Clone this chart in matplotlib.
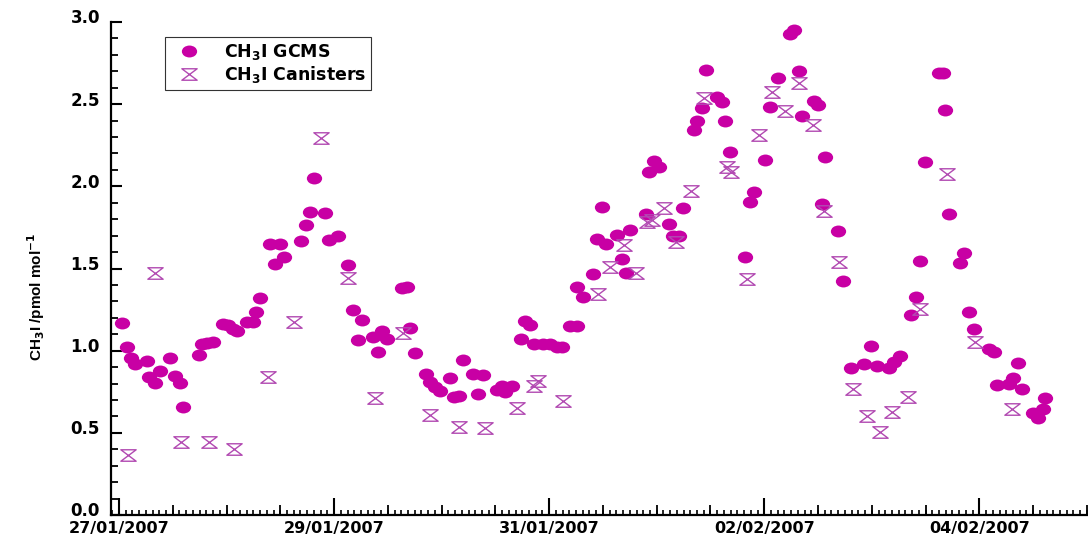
import numpy as np
import matplotlib
matplotlib.use('Agg')
import matplotlib.pyplot as plt
import matplotlib.transforms as mtransforms
from matplotlib.path import Path
from matplotlib.ticker import MultipleLocator, FormatStrFormatter, NullFormatter

plt.rcParams['font.family'] = ['Liberation Sans', 'DejaVu Sans']
plt.rcParams['font.weight'] = 'bold'

# time in days since 27/01/2007 00:00
gcms_days = [0.025, 0.072, 0.109, 0.149, 0.258, 0.282, 0.335, 0.381, 0.474, 0.521,
             0.567, 0.598, 0.747, 0.769, 0.816, 0.877, 0.965, 1.017, 1.063, 1.095,
             1.188, 1.249, 1.274, 1.312, 1.405, 1.451, 1.498, 1.538, 1.693, 1.740,
             1.777, 1.814, 1.916, 1.956, 2.040, 2.133, 2.180, 2.226, 2.263, 2.360,
             2.407, 2.444, 2.496, 2.630, 2.676, 2.707, 2.753, 2.853, 2.893, 2.940,
             2.986, 3.079, 3.116, 3.166, 3.197, 3.296, 3.337, 3.389, 3.513, 3.560,
             3.591, 3.653, 3.740, 3.777, 3.823, 3.860, 3.947, 4.009, 4.072, 4.118,
             4.195, 4.258, 4.258, 4.310, 4.407, 4.444, 4.490, 4.530, 4.635, 4.676,
             4.716, 4.753, 4.900, 4.924, 4.977, 5.017, 5.116, 5.156, 5.203, 5.244,
             5.342, 5.374, 5.420, 5.460, 5.560, 5.607, 5.637, 5.677, 5.823, 5.863,
             5.907, 6.009, 6.049, 6.124, 6.235, 6.272, 6.319, 6.351, 6.459, 6.496,
             6.537, 6.567, 6.682, 6.728, 6.809, 6.924, 6.995, 7.048, 7.156, 7.203,
             7.265, 7.367, 7.411, 7.451, 7.491, 7.621, 7.662, 7.677, 7.721, 7.817,
             7.853, 7.900, 7.947, 8.087, 8.140, 8.165, 8.273, 8.313, 8.356, 8.397,
             8.496, 8.542, 8.589, 8.614]
gcms_ch3i = [1.17, 1.02, 0.957, 0.92, 0.937, 0.837, 0.805, 0.878, 0.957, 0.845,
             0.805, 0.659, 0.973, 1.038, 1.048, 1.05, 1.16, 1.156, 1.13, 1.12,
             1.176, 1.176, 1.233, 1.32, 1.647, 1.53, 1.647, 1.571, 1.667, 1.764,
             1.845, 2.05, 1.835, 1.673, 1.697, 1.52, 1.247, 1.064, 1.186, 1.085,
             0.994, 1.12, 1.07, 1.379, 1.385, 1.14, 0.983, 0.858, 0.811, 0.78,
             0.756, 0.835, 0.716, 0.726, 0.943, 0.856, 0.736, 0.85, 0.76, 0.785,
             0.75, 0.785, 1.07, 1.18, 1.156, 1.04, 1.038, 1.038, 1.024, 1.02,
             1.15, 1.15, 1.385, 1.328, 1.466, 1.68, 1.875, 1.648, 1.703, 1.56,
             1.47, 1.734, 1.83, 2.085, 2.155, 2.12, 1.768, 1.697, 1.697, 1.866,
             2.34, 2.397, 2.474, 2.707, 2.544, 2.514, 2.398, 2.206, 1.571, 1.902,
             1.967, 2.16, 2.484, 2.66, 2.924, 2.954, 2.703, 2.427, 2.518, 2.494,
             1.89, 2.18, 1.727, 1.423, 0.892, 0.918, 1.028, 0.906, 0.896, 0.929,
             0.967, 1.217, 1.324, 1.545, 2.149, 2.687, 2.687, 2.463, 1.83, 1.535,
             1.595, 1.237, 1.133, 1.008, 0.991, 0.791, 0.795, 0.835, 0.922, 0.765,
             0.619, 0.592, 0.645, 0.714]

can_days = [0.087, 0.335, 0.577, 0.840, 1.073, 1.383, 1.628, 1.879, 2.133, 2.381,
            2.639, 2.893, 3.166, 3.405, 3.700, 3.860, 3.900, 4.127, 4.453, 4.561,
            4.698, 4.809, 4.914, 4.955, 5.070, 5.181, 5.318, 5.442, 5.653, 5.693,
            5.839, 5.951, 6.074, 6.195, 6.326, 6.453, 6.552, 6.691, 6.825, 6.955,
            7.079, 7.188, 7.333, 7.451, 7.699, 7.963, 8.307]
can_ch3i = [0.367, 1.47, 0.446, 0.446, 0.40, 0.841, 1.174, 2.297, 1.44, 0.71,
            1.105, 0.608, 0.537, 0.527, 0.653, 0.785, 0.817, 0.693, 1.342, 1.51,
            1.64, 1.47, 1.785, 1.794, 1.871, 1.662, 1.973, 2.535, 2.12, 2.09,
            1.434, 2.31, 2.575, 2.46, 2.63, 2.376, 1.85, 1.541, 0.765, 0.604,
            0.507, 0.628, 0.716, 1.253, 2.078, 1.05, 0.643]

tick_days = [0, 2, 4, 6, 8]
tick_labels = ['27/01/2007', '29/01/2007', '31/01/2007', '02/02/2007', '04/02/2007']

# slightly flattened markers, like the original plot
circ = Path.unit_circle()
ellipse = Path(circ.vertices * [1.0, 0.78], circ.codes)
hourglass = Path([(-1, 0.75), (1, 0.75), (-1, -0.75), (1, -0.75), (-1, 0.75)],
                 [Path.MOVETO, Path.LINETO, Path.LINETO, Path.LINETO, Path.CLOSEPOLY])

fig = plt.figure(figsize=(10.88, 5.38), dpi=100)
ax = fig.add_axes([111/1088, 23/538, 977/1088, 493/538])

ax.plot(gcms_days, gcms_ch3i, linestyle='none', marker=ellipse, color='#C800A4',
        markersize=11, markeredgewidth=0, label='CH$_3$I GCMS', zorder=3)
ax.plot(can_days, can_ch3i, linestyle='none', marker=hourglass, markersize=11,
        markerfacecolor='none', markeredgecolor='#B24AB2', markeredgewidth=1.0,
        label='CH$_3$I Canisters', zorder=4)

ax.set_xlim(-0.074, 9.01)
ax.set_ylim(0, 3.0)

ax.spines['top'].set_visible(False)
ax.spines['right'].set_visible(False)
ax.spines['left'].set_linewidth(1.6)
ax.spines['bottom'].set_linewidth(1.6)

ax.yaxis.set_major_locator(MultipleLocator(0.5))
ax.yaxis.set_minor_locator(MultipleLocator(0.1))
ax.yaxis.set_major_formatter(FormatStrFormatter('%.1f'))
ax.set_xticks(tick_days)
ax.set_xticklabels(tick_labels)
ax.xaxis.set_minor_locator(MultipleLocator(1/16))

ax.tick_params(axis='y', which='major', direction='in', length=8, width=1.5, pad=8, labelsize=12)
ax.tick_params(axis='y', which='minor', direction='in', length=5, width=1.3)
ax.tick_params(axis='x', which='major', direction='in', length=12, width=1.5, pad=4.5, labelsize=11.5)
ax.tick_params(axis='x', which='minor', direction='in', length=3.5, width=1.2)

# y labels sit a touch above their ticks in the original
shift_up = mtransforms.ScaledTranslation(0, 4/72, fig.dpi_scale_trans)
for lbl in ax.get_yticklabels():
    lbl.set_family('DejaVu Sans')
    lbl.set_fontweight('bold')
    lbl.set_transform(lbl.get_transform() + shift_up)
for lbl in ax.get_xticklabels():
    lbl.set_family('DejaVu Sans')
    lbl.set_fontweight('bold')

# half-day ticks
sec = ax.secondary_xaxis('bottom')
sec.xaxis.set_major_locator(MultipleLocator(0.5))
sec.xaxis.set_major_formatter(NullFormatter())
sec.tick_params(axis='x', which='major', direction='in', length=7, width=1.3)
sec.tick_params(axis='x', which='minor', length=0)
sec.spines['bottom'].set_visible(False)

ax.set_ylabel('CH$_3$I /pmol mol$^{-1}$', fontsize=11, fontweight='bold')
ax.yaxis.set_label_coords(-0.066, 0.442)

leg = ax.legend(loc='upper left', bbox_to_anchor=(0.055, 0.97), borderaxespad=0,
                fancybox=False, framealpha=1, edgecolor='#333333',
                prop={'family': 'DejaVu Sans', 'weight': 'bold', 'size': 12.5},
                handletextpad=0.9, borderpad=0.3, labelspacing=0.1, handlelength=2.2)
leg.get_frame().set_linewidth(0.8)

fig.savefig('out.png', dpi=100)
